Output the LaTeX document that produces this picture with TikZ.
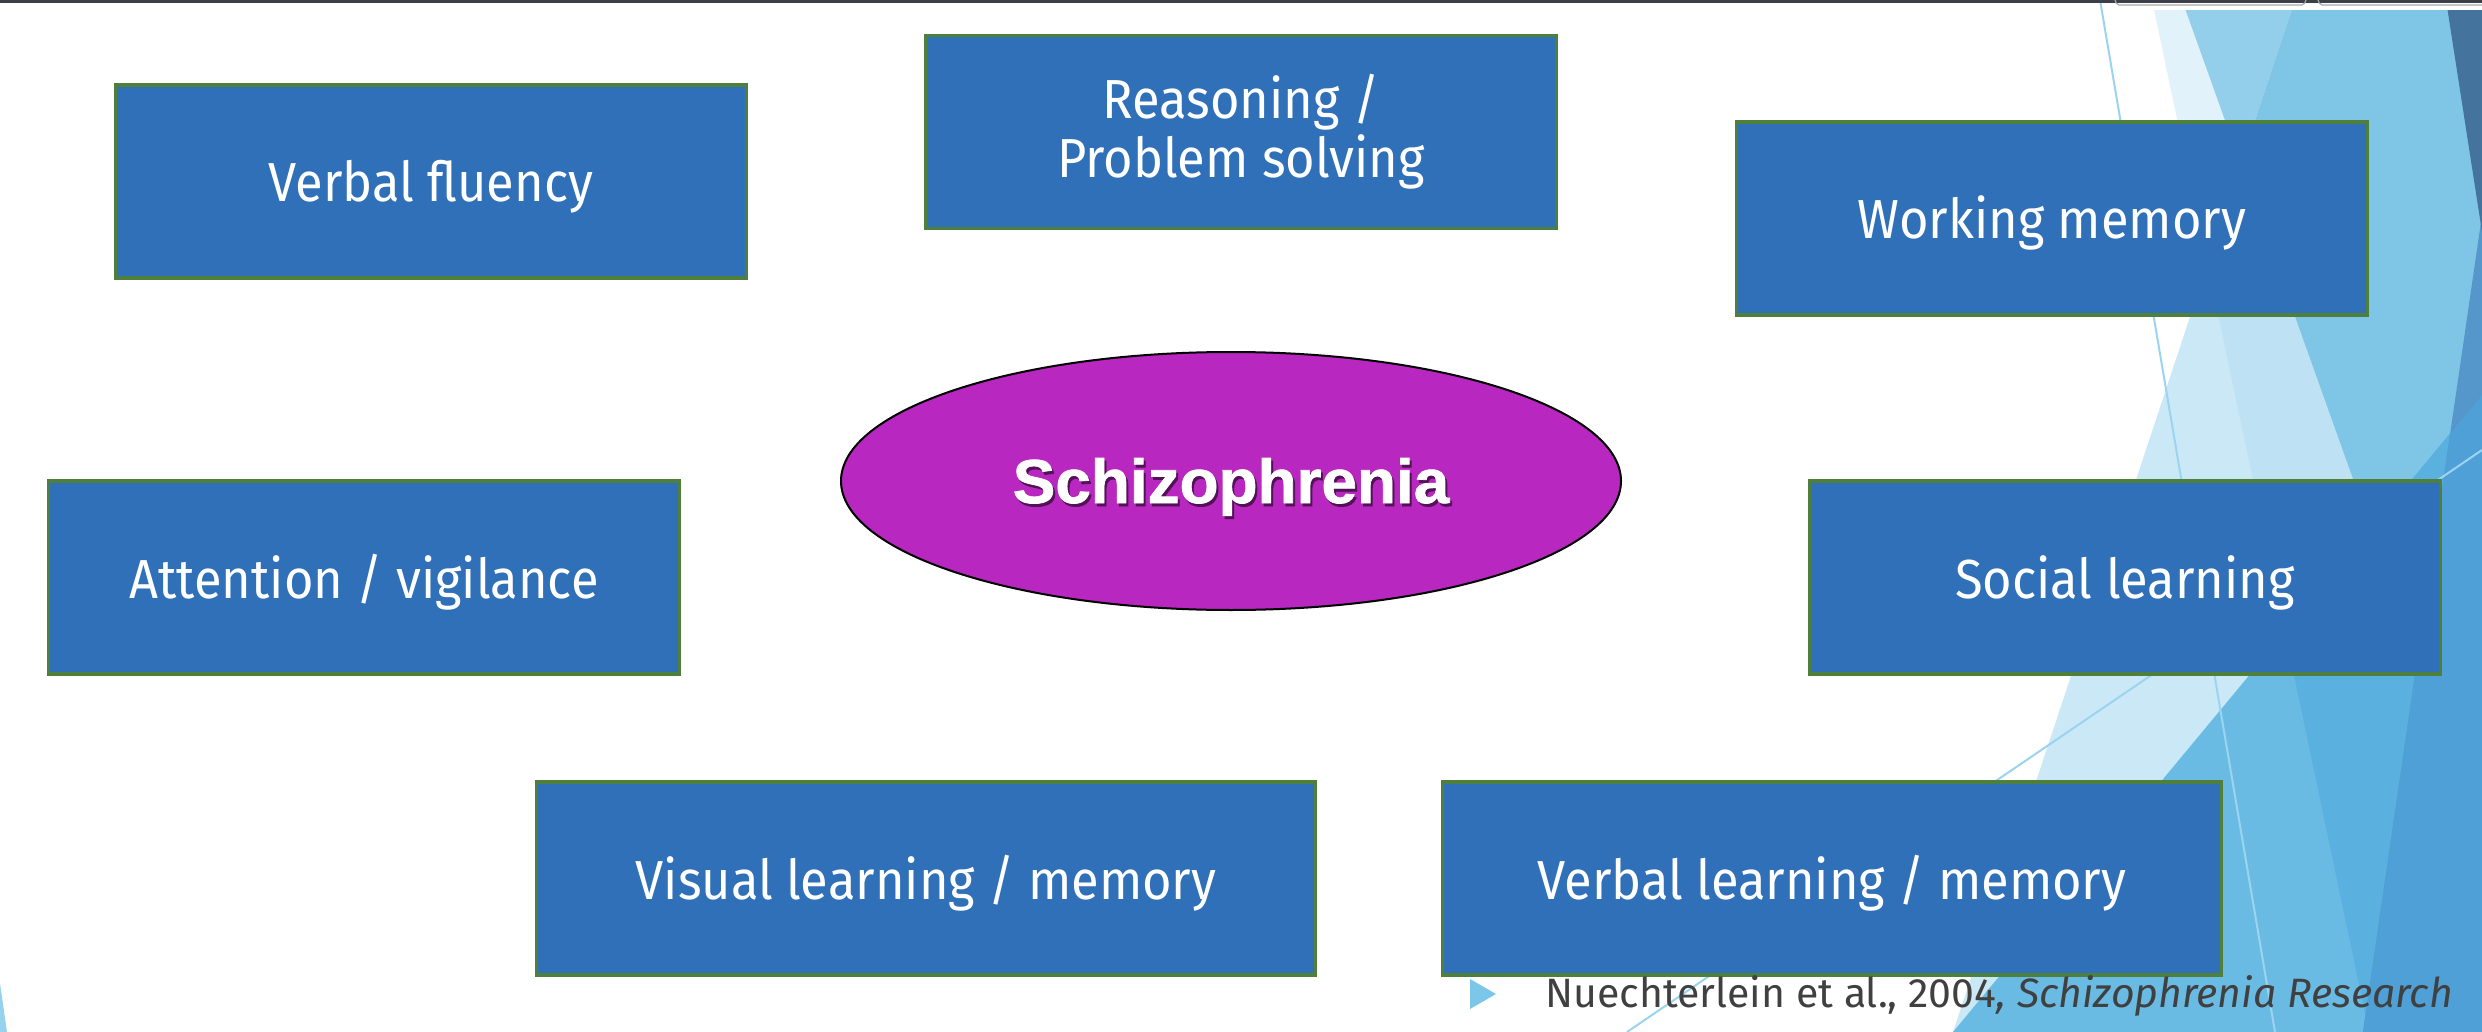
\documentclass[tikz,border=0pt]{standalone}
\usepackage{fontspec}
\setmainfont{Fira Sans}
\newfontfamily\boxfont[FakeStretch=0.92]{Fira Sans}
\newfontfamily\arialfont[FakeStretch=1.03,FakeBold=1.2]{Liberation Sans Bold}
\usetikzlibrary{shapes.geometric}
\definecolor{boxblue}{HTML}{3070B8}
\definecolor{boxgreen}{HTML}{4F7F3C}
\definecolor{ellfill}{HTML}{B927C1}
\definecolor{citegray}{HTML}{404040}
\definecolor{bulletblue}{HTML}{7CC6EA}
\definecolor{fcA}{HTML}{CBE8F6}
\definecolor{fcB}{HTML}{E2F2FA}
\definecolor{fcAB}{HTML}{BEE2F3}
\definecolor{fcBC}{HTML}{93CFEB}
\definecolor{fcABC}{HTML}{7EC5E6}
\definecolor{fcDa}{HTML}{6ABBE4}
\definecolor{fcDb}{HTML}{5AB0DE}
\definecolor{fcE}{HTML}{5596CB}
\definecolor{fcDE}{HTML}{4FA0D6}
\definecolor{fcdark}{HTML}{44739E}
\definecolor{thinline}{HTML}{9AD4EF}
\definecolor{topbar}{HTML}{3C3F48}
\begin{document}
\begin{tikzpicture}[x=1pt,y=-1pt,
  boxbase/.style={draw=boxgreen, line width=3.5pt, fill=boxblue, text=white,
    font=\boxfont\fontsize{55}{59}\selectfont, minimum width=631pt, minimum height=193pt,
    inner sep=0pt, align=center},
  cbox/.style={boxbase, text height=52pt, text depth=11pt},
  wbox/.style={cbox, minimum width=779pt},
  facetline/.style={draw=thinline, line width=2pt}]
\useasboundingbox (0,0) rectangle (2482,1032);
\fill[white] (0,0) rectangle (2482,1032);
% facets
\fill[fcB] (2152,0) -- (2482,0) -- (2482,1032) -- (2369,1032) -- cycle;
\fill[fcBC] (2182,0) -- (2482,0) -- (2482,840) -- cycle;
\fill[fcA] (2295,0) -- (2482,0) -- (2482,1032) -- (1953,1032) -- cycle;
\begin{scope}
  \clip (2295,0) -- (2482,0) -- (2482,1032) -- (1953,1032) -- cycle;
  \fill[fcAB] (2152,0) -- (2482,0) -- (2482,1032) -- (2369,1032) -- cycle;
  \fill[fcABC] (2182,0) -- (2482,0) -- (2482,840) -- cycle;
\end{scope}
\fill[fcDa] (2482,395) -- (2482,1032) -- (1953,1032) -- cycle;
\begin{scope}
  \clip (2482,395) -- (2482,1032) -- (1953,1032) -- cycle;
  \fill[fcDb] (2152,0) -- (2482,0) -- (2482,1032) -- (2369,1032) -- cycle;
\end{scope}
\fill[fcE] (2482,215) -- (2482,1032) -- (2363,1032) -- cycle;
\begin{scope}
  \clip (2482,215) -- (2482,1032) -- (2363,1032) -- cycle;
  \fill[fcDE] (2482,395) -- (2482,1032) -- (1953,1032) -- cycle;
\end{scope}
\fill[fcdark] (2446,0) -- (2482,0) -- (2482,232) -- cycle;
\fill[white] (2130,0) rectangle (2482,10);
\draw[facetline] (2100,0) -- (2275,1032);
\draw[facetline] (1627,1032) -- (2482,450);
\fill[bulletblue!80] (0,983) -- (7,1032) -- (0,1032) -- cycle;
% top bar
\fill[topbar] (0,0) rectangle (2482,3);
\draw[gray!70, line width=1.2pt, rounded corners=2pt] (2115,0) -- (2117,5) -- (2304,5) -- (2306,0);
\draw[gray!70, line width=1.2pt, rounded corners=2pt] (2318,0) -- (2320,5) -- (2490,5);
% boxes
\node[cbox] (vf) at (431,181.5) {Verbal fluency};
\node[boxbase] (rp) at (1241,132) {Reasoning /\\Problem solving};
\node[cbox] (wm) at (2052,218.5) {Working memory};
\node[cbox] (av) at (364,577.5) {Attention / vigilance};
\node[cbox] (sl) at (2125,577.5) {Social learning};
\node[wbox] (vl) at (926,878.5) {Visual learning / memory};
\node[wbox] (vbl) at (1832,878.5) {Verbal learning / memory};
% ellipse
\node[ellipse, draw=black, line width=2pt, fill=ellfill, minimum width=780pt,
  minimum height=258pt, inner sep=0pt] (schiz) at (1231,481) {};
\node[anchor=base, text=black!55!ellfill, font=\arialfont\fontsize{62}{70}\selectfont]
  (schizsh) at (1233,506) {Schizophrenia};
\node[anchor=base, text=white, font=\arialfont\fontsize{62}{70}\selectfont]
  (schiztxt) at (1231,503) {Schizophrenia};
% citation
\fill[bulletblue] (1470,979) -- (1496,994) -- (1470,1009) -- cycle;
\node[anchor=base west, inner sep=0pt, text=citegray, font=\fontsize{41}{46}\selectfont]
  (cite) at (1545,1007) {Nuechterlein et al., 2004\textit{, Schizophrenia Research}};
\end{tikzpicture}
\end{document}
